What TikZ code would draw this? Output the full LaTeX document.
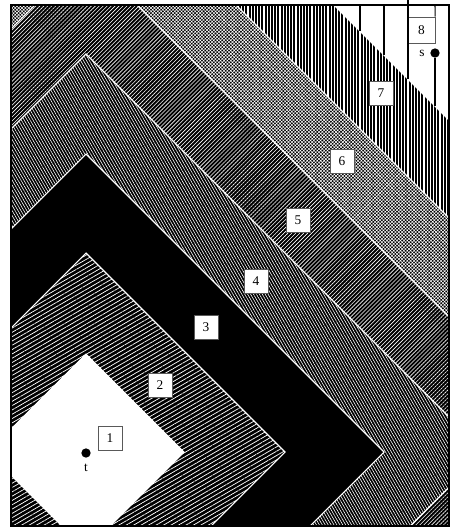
\documentclass[tikz,border=0pt]{standalone}
\usepackage{fontspec}
\setmainfont{Liberation Serif}
\usepackage{tikz}
\usetikzlibrary{patterns,patterns.meta,positioning}
\tikzset{
  ringedge/.style={draw=white, line width=0.8pt},
  ringone/.style={ringedge, fill=white},
  ringtwo/.style={ringedge, preaction={fill=black},
    pattern={Lines[angle=30,distance=2.8pt,line width=0.55pt]}, pattern color=white},
  ringthree/.style={ringedge, fill=black},
  ringfour/.style={ringedge, preaction={fill=black},
    pattern={Lines[angle=120,distance=1.9pt,line width=0.45pt]}, pattern color=white},
  ringfive/.style={ringedge, preaction={fill=black},
    pattern={Lines[angle=45,distance=2.1pt,line width=0.45pt]}, pattern color=white},
  ringsix/.style={ringedge, preaction={fill=black},
    pattern={Hatch[angle=45,distance=1.8pt,line width=0.4pt]}, pattern color=white},
  ringseven/.style={ringedge, preaction={fill=white},
    pattern={Lines[angle=90,distance=2.4pt,line width=1.5pt]}, pattern color=black},
  ringlabel/.style={rectangle, draw=black!65, line width=0.5pt, fill=white,
    minimum size=18pt, inner sep=1pt, font=\normalsize},
  vertex/.style={circle, fill=black, inner sep=0pt, minimum size=7pt},
  stripe/.style={draw=black, line width=0.8pt},
  frameline/.style={draw=black, line width=1.2pt},
}

\begin{document}
\begin{tikzpicture}[x=0.75pt, y=-0.75pt]
\useasboundingbox (0,0) rectangle (453,529);

% distance rings around t
\begin{scope}
\clip (11,5) rectangle (449,526);
\draw[ringseven] (86,452) ++(-695,0) -- ++(695,-695) -- ++(695,695) -- ++(-695,695) -- cycle;
\draw[ringsix]   (86,452) ++(-597,0) -- ++(597,-597) -- ++(597,597) -- ++(-597,597) -- cycle;
\draw[ringfive]  (86,452) ++(-498,0) -- ++(498,-498) -- ++(498,498) -- ++(-498,498) -- cycle;
\draw[ringfour]  (86,452) ++(-398,0) -- ++(398,-398) -- ++(398,398) -- ++(-398,398) -- cycle;
\draw[ringthree] (86,452) ++(-298,0) -- ++(298,-298) -- ++(298,298) -- ++(-298,298) -- cycle;
\draw[ringtwo]   (86,452) ++(-199,0) -- ++(199,-199) -- ++(199,199) -- ++(-199,199) -- cycle;
\draw[ringone]   (86,452) ++(-98,0) -- ++(98,-98) -- ++(98,98) -- ++(-98,98) -- cycle;
\end{scope}

% labels
\node[ringlabel] (l1) at (110,438) {1};
\node[ringlabel] (l2) at (160,385) {2};
\node[ringlabel] (l3) at (206,327) {3};
\node[ringlabel] (l4) at (256,281) {4};
\node[ringlabel] (l5) at (298,220) {5};
\node[ringlabel] (l6) at (342,161) {6};
\node[ringlabel] (l7) at (381,93) {7};
\node[ringlabel, minimum width=20pt, minimum height=19.5pt] (l8) at (421.5,30) {8};

% terminals
\node[vertex] (t) at (86,453) {};
\node[below=4pt of t, inner sep=0pt] (tlab) {t};
\node[vertex] (s) at (435,53) {};
\node[left=4pt of s, inner sep=0pt] (slab) {s};

% stripes in the outer region
\coordinate (a1) at (360,5);   \coordinate (b1) at (360,31);
\coordinate (a2) at (384,5);   \coordinate (b2) at (384,55);
\coordinate (a3) at (408,0);   \coordinate (b3) at (408,79);
\coordinate (a4) at (435,5);   \coordinate (b4) at (435,106);
\draw[stripe] (a1) -- (b1);
\draw[stripe] (a2) -- (b2);
\draw[stripe] (a3) -- (b3);
\draw[stripe] (a4) -- (l8.north east);
\draw[stripe] (s) -- (b4);

\draw[frameline] (11,5) rectangle (449,526);
\end{tikzpicture}
\end{document}
